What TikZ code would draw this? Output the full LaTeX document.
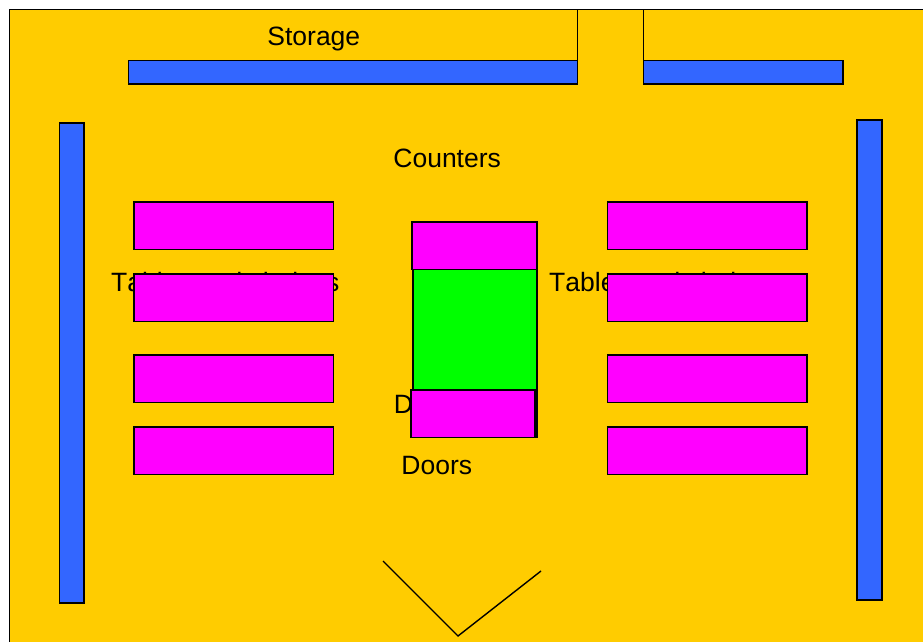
\documentclass[tikz,border=0pt]{standalone}
\usepackage{fontspec}
\setmainfont[Kerning=Off]{Liberation Sans}
\definecolor{floorcol}{HTML}{FFCC00}
\definecolor{wallcol}{HTML}{3366FF}
\definecolor{tablecol}{HTML}{FF00FF}
\definecolor{islandcol}{HTML}{00FF00}
\begin{document}
\begin{tikzpicture}[x=1pt,y=-1pt,line width=1.8pt,
        every node/.style={anchor=base west,inner sep=0pt,font=\fontsize{26.5}{30}\selectfont},
        counter/.style={draw,fill=wallcol},
        tablebox/.style={draw,fill=tablecol}]
    \useasboundingbox (0,0) rectangle (923,642);
    \draw[fill=floorcol] (9.5,9.5) rectangle (935,655);

    \node (storage) at (266.5,45.7) {Storage};
    \node (counters) at (392.5,167.5) {Counters};
    \node (tablesL) at (110.3,291) {Tables and chaises};
    \node (tablesR) at (548.3,291) {Tables and chaises};
    \node (d) at (393,413.5) {D};
    \node (doors) at (400.5,474.5) {Doors};

    \draw (577.5,9.5) -- (577.5,60);
    \draw (643.5,9.5) -- (643.5,60);
    \draw[counter] (128.5,60.5) rectangle (577.5,84);
    \draw[counter] (643.5,60.5) rectangle (843,84);
    \draw[counter] (59.5,123) rectangle (84,603);
    \draw[counter] (857,120) rectangle (882,600);

    \foreach \y in {202,274,355,427}{
        \draw[tablebox] (134,\y) rectangle +(199.5,47.5);
        \draw[tablebox] (607.5,\y) rectangle +(199.5,47.5);
    }
    \draw[fill=islandcol] (413,222) rectangle (537,437);
    \draw[tablebox] (412,222) rectangle (537,269.5);
    \draw[tablebox] (411,390) rectangle (535,437.5);

    \coordinate (doorL) at (383,561);
    \coordinate (doorM) at (458,636);
    \coordinate (doorR) at (541,571);
    \draw[line width=1.4pt] (doorL) -- (doorM) -- (doorR);
\end{tikzpicture}
\end{document}
